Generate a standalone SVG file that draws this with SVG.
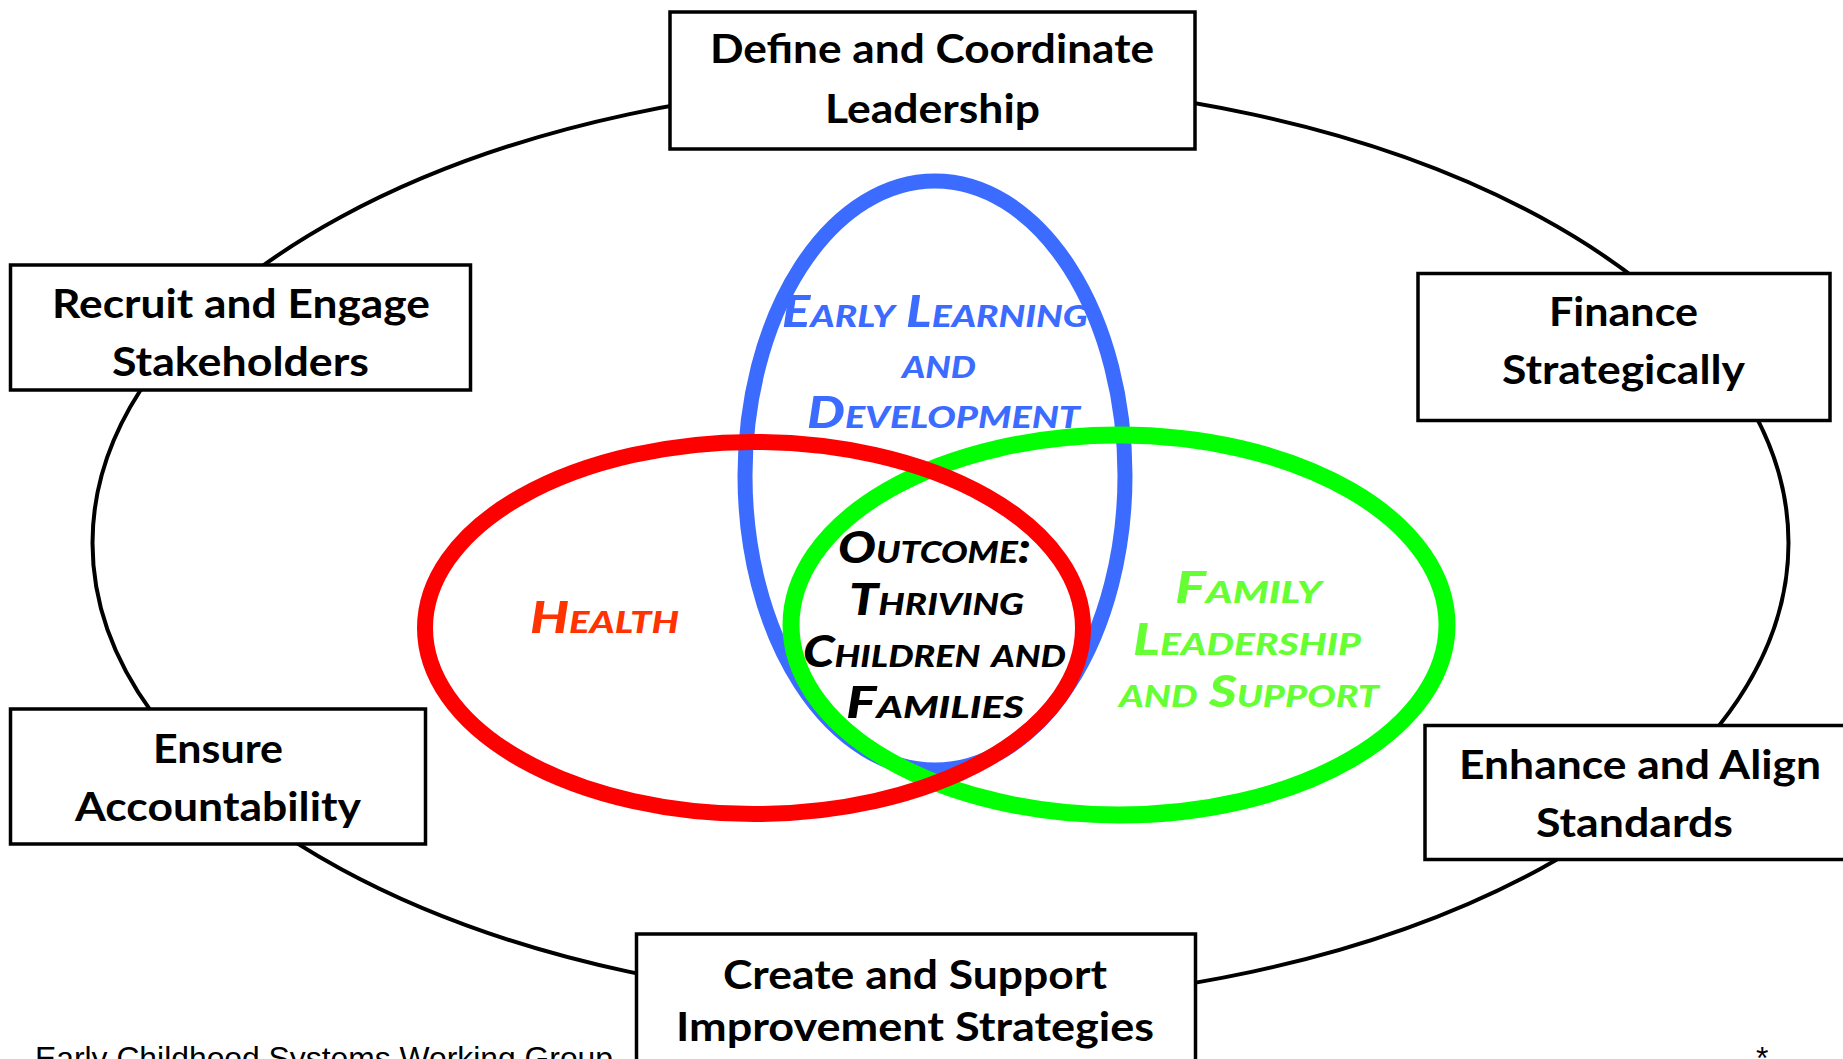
<svg xmlns="http://www.w3.org/2000/svg" width="1843" height="1059" viewBox="0 0 1843 1059">
<style>
.box{fill:#fff;stroke:#000;stroke-width:3.5}
.bt{font-family:Lato,"Open Sans","Liberation Sans",sans-serif;font-weight:700;font-size:40px;fill:#000}
.hw{font-family:Lato,"DejaVu Sans",sans-serif;font-weight:900;font-style:italic;font-variant:small-caps;font-size:44px}
.ring{fill:none;stroke:#000;stroke-width:4}
.foot{font-family:"Liberation Sans",Arial,sans-serif;font-size:32px;fill:#000}
</style>
<g id="connectors">
<ellipse class="ring" cx="940.5" cy="543" rx="848" ry="461"/>
</g>
<g id="venn">
<g id="early-learning">
<ellipse cx="935" cy="475.5" rx="190" ry="294.5" fill="none" stroke="#3B6CFF" stroke-width="15"/>
<text class="hw" fill="#3B6CFF"><tspan x="782" y="327" textLength="306" lengthAdjust="spacingAndGlyphs">Early Learning</tspan><tspan x="902" y="378" textLength="74" lengthAdjust="spacingAndGlyphs">and</tspan><tspan x="807" y="428" textLength="273" lengthAdjust="spacingAndGlyphs">Development</tspan></text>
</g>
<g id="family">
<ellipse cx="1119" cy="625" rx="328" ry="190" fill="none" stroke="#00FF00" stroke-width="17"/>
<text class="hw" fill="#66FF33"><tspan x="1175" y="603" textLength="147" lengthAdjust="spacingAndGlyphs">Family</tspan><tspan x="1133" y="655" textLength="228" lengthAdjust="spacingAndGlyphs">Leadership</tspan><tspan x="1119" y="707" textLength="260" lengthAdjust="spacingAndGlyphs">and Support</tspan></text>
</g>
<g id="health">
<ellipse cx="754" cy="628" rx="329" ry="186" fill="none" stroke="#FF0000" stroke-width="16"/>
<text class="hw" fill="#FF3300" x="530" y="633" textLength="149" lengthAdjust="spacingAndGlyphs">Health</text>
</g>
<g id="outcome">
<text class="hw" fill="#000"><tspan x="838" y="563" textLength="193" lengthAdjust="spacingAndGlyphs">Outcome:</tspan><tspan x="849" y="615" textLength="175" lengthAdjust="spacingAndGlyphs">Thriving</tspan><tspan x="803" y="667" textLength="263" lengthAdjust="spacingAndGlyphs">Children and</tspan><tspan x="846" y="718" textLength="178" lengthAdjust="spacingAndGlyphs">Families</tspan></text>
</g>
</g>
<g id="define-leadership">
<rect class="box" x="670" y="12" width="525" height="137"/>
<text class="bt"><tspan x="710" y="63" textLength="444" lengthAdjust="spacingAndGlyphs">Define and Coordinate</tspan><tspan x="825" y="123" textLength="215" lengthAdjust="spacingAndGlyphs">Leadership</tspan></text>
</g>
<g id="recruit-stakeholders">
<rect class="box" x="10.5" y="265" width="460" height="125"/>
<text class="bt"><tspan x="52" y="318" textLength="378" lengthAdjust="spacingAndGlyphs">Recruit and Engage</tspan><tspan x="112" y="376" textLength="257" lengthAdjust="spacingAndGlyphs">Stakeholders</tspan></text>
</g>
<g id="finance">
<rect class="box" x="1418" y="273.5" width="412" height="147"/>
<text class="bt"><tspan x="1549" y="326" textLength="149" lengthAdjust="spacingAndGlyphs">Finance</tspan><tspan x="1502" y="384" textLength="243" lengthAdjust="spacingAndGlyphs">Strategically</tspan></text>
</g>
<g id="ensure-accountability">
<rect class="box" x="10.5" y="709" width="415" height="135"/>
<text class="bt"><tspan x="153" y="763" textLength="130" lengthAdjust="spacingAndGlyphs">Ensure</tspan><tspan x="75" y="821" textLength="286" lengthAdjust="spacingAndGlyphs">Accountability</tspan></text>
</g>
<g id="enhance-standards">
<rect class="box" x="1425" y="725.5" width="430" height="134"/>
<text class="bt"><tspan x="1459" y="779" textLength="362" lengthAdjust="spacingAndGlyphs">Enhance and Align</tspan><tspan x="1536" y="837" textLength="197" lengthAdjust="spacingAndGlyphs">Standards</tspan></text>
</g>
<g id="improvement-strategies">
<rect class="box" x="636.5" y="934" width="559" height="140"/>
<text class="bt"><tspan x="723" y="989" textLength="384" lengthAdjust="spacingAndGlyphs">Create and Support</tspan><tspan x="676" y="1041" textLength="478" lengthAdjust="spacingAndGlyphs">Improvement Strategies</tspan></text>
</g>
<g id="footer">
<text class="foot" x="35" y="1069" textLength="578" lengthAdjust="spacingAndGlyphs">Early Childhood Systems Working Group</text>
<text class="foot" x="1756" y="1069">*</text>
</g>
</svg>
